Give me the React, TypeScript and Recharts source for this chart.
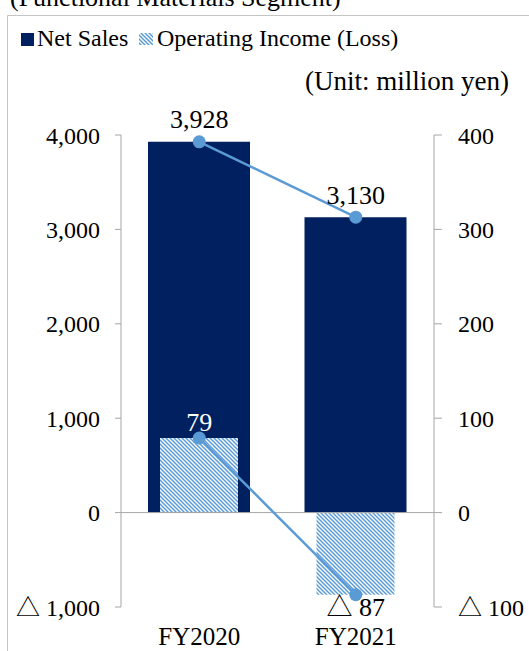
import { ComposedChart, Bar, Line, XAxis, YAxis, ReferenceLine } from "recharts";

const years = ["FY2020", "FY2021"];
const netSales = [3928, 3130];
const operatingIncome = [79, -87];
const salesTicks = [-1000, 0, 1000, 2000, 3000, 4000];
const incomeTicks = [-100, 0, 100, 200, 300, 400];

const data = years.map((year, i) => ({
  year,
  sales: netSales[i],
  income: operatingIncome[i],
}));

const NAVY = "#002060";
const LIGHT_BLUE = "#5B9BD5";
const AXIS_GRAY = "#A6A6A6";
const FRAME_GRAY = "#C4C4C4";
const FONT = '"Liberation Serif", "Times New Roman", "Noto Sans CJK JP", serif';

// negative numbers are written with a triangle, Japanese report style
const fmt = (v: number) =>
  v < 0
    ? `△ ${Math.abs(v).toLocaleString("en-US")}`
    : v.toLocaleString("en-US");

const tickStyle = { fill: "#000", fontSize: 24, fontFamily: FONT };

function SalesLabel(props: any) {
  const { x, y, value } = props;
  return (
    <text
      x={x}
      y={y - 22}
      textAnchor="middle"
      dominantBaseline="central"
      fontSize={26}
      fontFamily={FONT}
      fill="#000"
    >
      {fmt(value)}
    </text>
  );
}

function IncomeLabel(props: any) {
  const { x, y, value } = props;
  const below = value < 0;
  return (
    <text
      x={x}
      y={below ? y + 13 : y - 16}
      textAnchor="middle"
      dominantBaseline="central"
      fontSize={26}
      fontFamily={FONT}
      fill={below ? "#000" : "#fff"}
    >
      {fmt(value)}
    </text>
  );
}

function Hatch({ id }: { id: string }) {
  return (
    <pattern id={id} width="4" height="4" patternUnits="userSpaceOnUse">
      <rect width="4" height="4" fill="#fff" />
      <path
        d="M-1,-1 L5,5 M-1,3 L1,5 M3,-1 L5,1"
        stroke={LIGHT_BLUE}
        strokeWidth={1.5}
      />
    </pattern>
  );
}

export default function App() {
  return (
    <div
      style={{
        position: "absolute",
        left: 0,
        top: 0,
        width: 529,
        height: 651,
        overflow: "hidden",
        background: "#fff",
        fontFamily: FONT,
      }}
    >
      <ComposedChart
        width={529}
        height={651}
        data={data}
        margin={{ top: 135, right: 5, bottom: 4, left: 21 }}
      >
        <defs>
          <Hatch id="hatch" />
        </defs>
        <XAxis
          xAxisId="main"
          dataKey="year"
          axisLine={false}
          tickLine={false}
          tickSize={0}
          tickMargin={20}
          height={40}
          tick={{ ...tickStyle, fontSize: 25 }}
        />
        <XAxis xAxisId="overlay" dataKey="year" hide />
        <YAxis
          yAxisId="left"
          width={100}
          domain={[-1000, 4000]}
          ticks={salesTicks}
          interval={0}
          tickFormatter={fmt}
          axisLine={{ stroke: AXIS_GRAY }}
          tickLine={{ stroke: AXIS_GRAY }}
          tickSize={6}
          tickMargin={15}
          tick={tickStyle}
        />
        <YAxis
          yAxisId="right"
          orientation="right"
          width={90}
          domain={[-100, 400]}
          ticks={incomeTicks}
          interval={0}
          tickFormatter={fmt}
          axisLine={{ stroke: AXIS_GRAY }}
          tickLine={{ stroke: AXIS_GRAY }}
          tickSize={8}
          tickMargin={16}
          tick={tickStyle}
        />
        <Bar
          xAxisId="main"
          yAxisId="left"
          dataKey="sales"
          fill={NAVY}
          barSize={102}
          isAnimationActive={false}
        />
        <Bar
          xAxisId="overlay"
          yAxisId="right"
          dataKey="income"
          fill="url(#hatch)"
          barSize={78}
          isAnimationActive={false}
        />
        <ReferenceLine
          xAxisId="main"
          yAxisId="left"
          y={0}
          stroke={AXIS_GRAY}
        />
        <Line
          xAxisId="main"
          yAxisId="left"
          dataKey="sales"
          stroke={LIGHT_BLUE}
          strokeWidth={2.5}
          dot={{ r: 6.5, fill: LIGHT_BLUE, stroke: "none" }}
          activeDot={false}
          label={<SalesLabel />}
          isAnimationActive={false}
        />
        <Line
          xAxisId="main"
          yAxisId="right"
          dataKey="income"
          stroke={LIGHT_BLUE}
          strokeWidth={2.5}
          dot={{ r: 6.5, fill: LIGHT_BLUE, stroke: "none" }}
          activeDot={false}
          label={<IncomeLabel />}
          isAnimationActive={false}
        />
      </ComposedChart>

      {/* frame, heading, legend and unit note */}
      <svg
        width={529}
        height={651}
        style={{ position: "absolute", left: 0, top: 0, pointerEvents: "none" }}
      >
        <defs>
          <Hatch id="hatchLegend" />
        </defs>
        <line x1={7.5} y1={15.5} x2={7.5} y2={651} stroke={FRAME_GRAY} />
        <line x1={7.5} y1={15.5} x2={529} y2={15.5} stroke={FRAME_GRAY} />
        <text x={10} y={6} fontSize={26} fontFamily={FONT} fill="#000">
          (Functional Materials Segment)
        </text>
        <rect x={21} y={33} width={13} height={13} fill={NAVY} />
        <text x={37} y={46} fontSize={24} fontFamily={FONT} fill="#000">
          Net Sales
        </text>
        <rect x={139} y={33} width={14} height={12} fill="url(#hatchLegend)" />
        <text x={157} y={46} fontSize={24} fontFamily={FONT} fill="#000">
          Operating Income (Loss)
        </text>
        <text
          x={509}
          y={90}
          fontSize={27}
          fontFamily={FONT}
          fill="#000"
          textAnchor="end"
        >
          (Unit: million yen)
        </text>
      </svg>
    </div>
  );
}
